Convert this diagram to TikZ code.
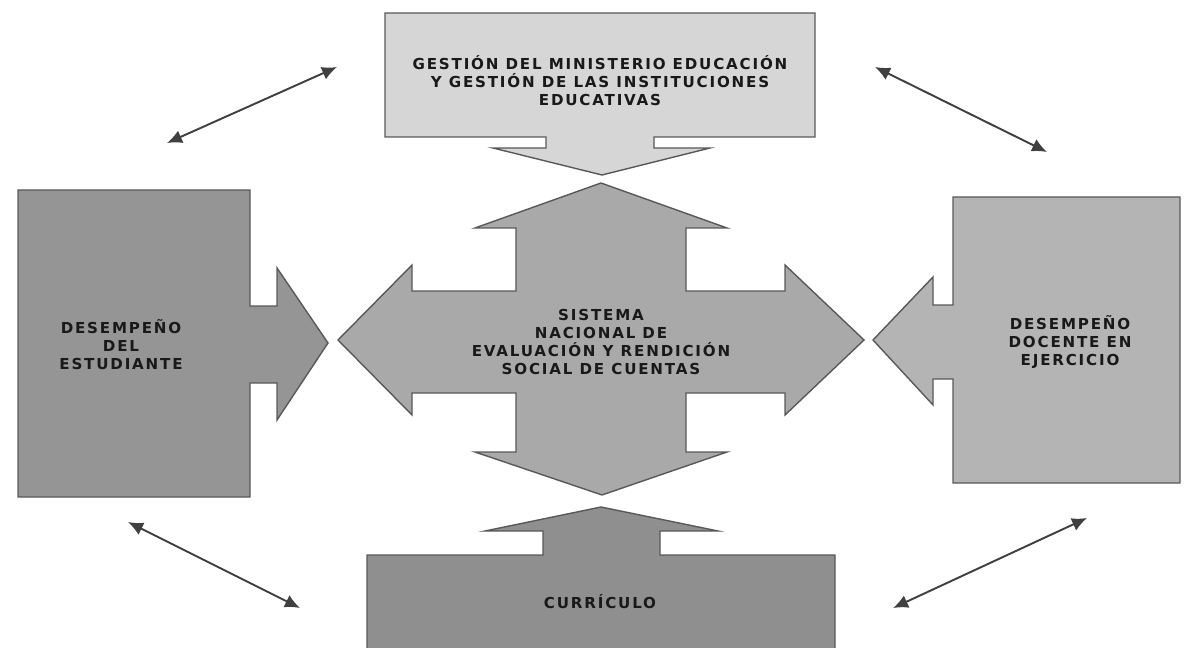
\documentclass[tikz,border=0pt]{standalone}
\usepackage{fontspec}
\newfontfamily\blockfont{DejaVu Sans}[LetterSpace=12]
\usetikzlibrary{arrows.meta}

\begin{document}
\begin{tikzpicture}[x=0.02cm, y=-0.02cm, >={Latex[length=3mm,width=2.7mm]},
        block/.style={draw=black!65, line width=0.8pt, line join=miter},
        label/.style={align=center, text=black!90, font=\blockfont\bfseries\fontsize{8.6}{10.2}\selectfont},
        link/.style={<->, draw=black!75, line width=1.1pt}]
        % Define colors
        \definecolor{toplight}{HTML}{D6D6D6}
        \definecolor{crossgray}{HTML}{A9A9A9}
        \definecolor{leftgray}{HTML}{959595}
        \definecolor{rightgray}{HTML}{B4B4B4}
        \definecolor{bottomgray}{HTML}{8F8F8F}

        \useasboundingbox (0,0) rectangle (1185,648);
        \clip (0,0) rectangle (1185,648);

        % Block arrows
        \filldraw[block, fill=toplight] (385,13) -- (815,13) -- (815,137) -- (654,137) -- (654,148) -- (710,148)
            -- (602,175) -- (493,148) -- (546,148) -- (546,137) -- (385,137) -- cycle;
        \filldraw[block, fill=crossgray] (601,183) -- (727,228) -- (686,228) -- (686,291) -- (785,291) -- (785,265)
            -- (864,340) -- (785,415) -- (785,393) -- (686,393) -- (686,452) -- (727,452) -- (602,495)
            -- (475,452) -- (516,452) -- (516,393) -- (412,393) -- (412,415) -- (338,340) -- (412,265)
            -- (412,291) -- (516,291) -- (516,228) -- (475,228) -- cycle;
        \filldraw[block, fill=leftgray] (18,190) -- (250,190) -- (250,306) -- (277,306) -- (277,268) -- (328,343)
            -- (277,420) -- (277,383) -- (250,383) -- (250,497) -- (18,497) -- cycle;
        \filldraw[block, fill=rightgray] (1180,197) -- (953,197) -- (953,305) -- (933,305) -- (933,277) -- (873,340)
            -- (933,405) -- (933,379) -- (953,379) -- (953,483) -- (1180,483) -- cycle;
        \filldraw[block, fill=bottomgray] (367,660) -- (367,555) -- (543,555) -- (543,531) -- (485,531) -- (601,507)
            -- (718,531) -- (660,531) -- (660,555) -- (835,555) -- (835,660) -- cycle;

        % Labels
        \node[label] (gestion) at (600,81) {GESTIÓN DEL MINISTERIO EDUCACIÓN\\Y GESTIÓN DE LAS INSTITUCIONES\\EDUCATIVAS};
        \node[label] (sistema) at (601,342) {SISTEMA\\NACIONAL DE\\EVALUACIÓN Y RENDICIÓN\\SOCIAL DE CUENTAS};
        \node[label] (estudiante) at (121,345) {DESEMPEÑO\\DEL\\ESTUDIANTE};
        \node[label] (docente) at (1070,342) {DESEMPEÑO\\DOCENTE EN\\EJERCICIO};
        \node[label] (curriculo) at (600,602) {CURRÍCULO};

        % Corner arrows
        \coordinate (tl1) at (167,143);  \coordinate (tl2) at (337,67);
        \coordinate (tr1) at (875,67);   \coordinate (tr2) at (1047,152);
        \coordinate (bl1) at (128,522);  \coordinate (bl2) at (300,608);
        \coordinate (br1) at (893,608);  \coordinate (br2) at (1087,518);
        \foreach \c in {tl,tr,bl,br} {
            \draw[link] (\c1) -- (\c2);
        }
    \end{tikzpicture}
\end{document}
